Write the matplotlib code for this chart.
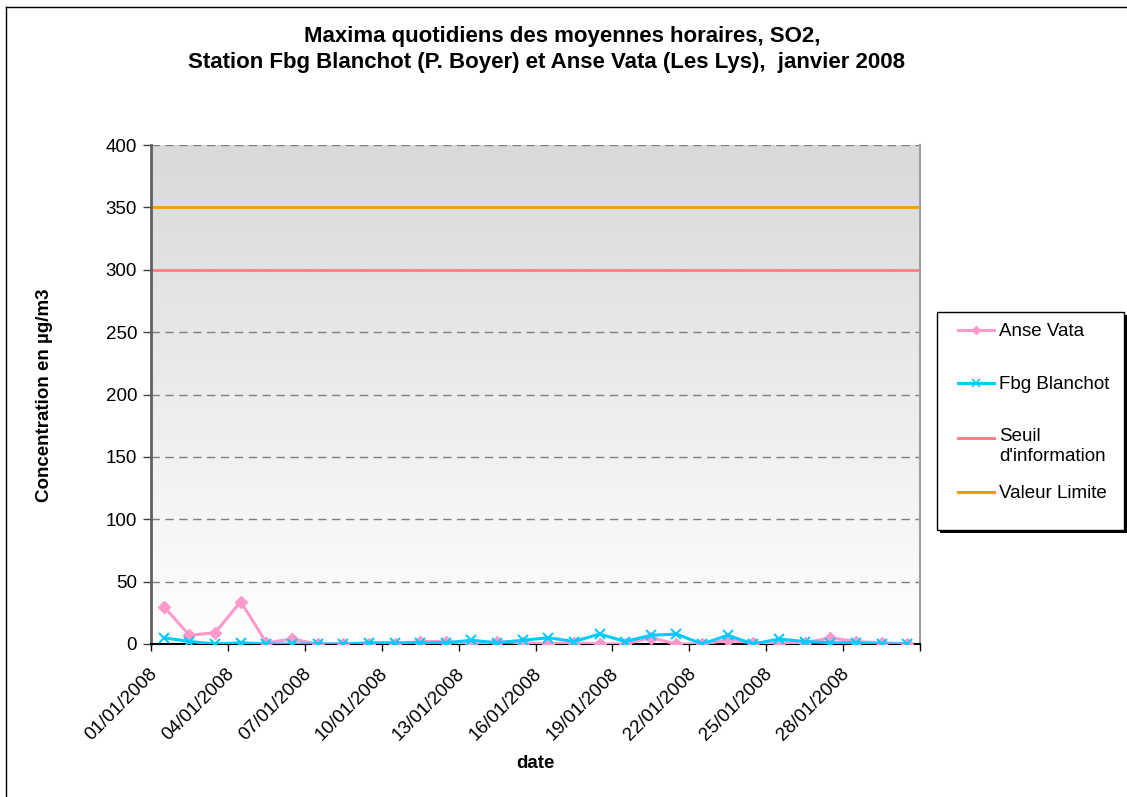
import matplotlib
matplotlib.use("Agg")
import matplotlib.pyplot as plt
import numpy as np
from matplotlib.colors import LinearSegmentedColormap
from matplotlib.lines import Line2D
from matplotlib.patches import Rectangle
from matplotlib.transforms import ScaledTranslation

plt.rcParams['font.family'] = ['Liberation Sans', 'DejaVu Sans']

dates = [f"{d:02d}/01/2008" for d in range(1, 31)]
anse_vata = [30, 7, 9, 34, 1, 4, 0, 0, 0, 0, 2, 2, 0, 2, 1,
             0, 1, 0, 0, 5, 0, 0, 3, 1, 1, 1, 5, 2, 1, 0]
fbg_blanchot = [5, 2, 0, 1, 0, 0, 0, 0, 1, 1, 1, 1, 3, 1, 3,
                5, 2, 8, 2, 7, 8, 0, 7, 0, 4, 2, 1, 1, 0, 0]
seuil_information = 300
valeur_limite = 350
y_ticks = [0, 50, 100, 150, 200, 250, 300, 350, 400]
series_names = ["Anse Vata", "Fbg Blanchot", "Seuil\nd'information", "Valeur Limite"]

PINK, BLUE, SEUIL_C, VL_C = '#FF99CC', '#00CCFF', '#FF8080', '#FF9900'
FS = 13.5

W, H = 1127, 797
fig = plt.figure(figsize=(W / 100, H / 100), dpi=100)


def fx(px):
    return px / W


def fy(py):
    return 1 - py / H


# chart border (clipped on right/bottom like the reference)
fig.add_artist(Line2D([fx(6), 1], [fy(7), fy(7)], color='black', lw=1))
fig.add_artist(Line2D([fx(6), fx(6)], [0, fy(7)], color='black', lw=1))

ax = fig.add_axes([fx(151), fy(644), (920 - 151) / W, (644 - 145) / H])
x = np.arange(len(dates))
ax.set_xlim(-0.5, len(dates) - 0.5)
ax.set_ylim(0, 400)

# gradient background
cmap = LinearSegmentedColormap.from_list('g', ['#FFFFFF', '#D9D9D9'])
grad = np.linspace(0, 1, 256).reshape(-1, 1)
ax.imshow(grad, extent=[-0.5, len(dates) - 0.5, 0, 400], origin='lower',
          aspect='auto', cmap=cmap, zorder=0)

for yv in y_ticks[1:]:
    ax.axhline(yv, color='#7F7F7F', lw=1, ls=(0, (6, 4)), zorder=1)

ax.axhline(seuil_information, color=SEUIL_C, lw=2, zorder=2)
ax.axhline(valeur_limite, color=VL_C, lw=2, zorder=2)

ax.plot(x, anse_vata, color=PINK, lw=2.2, marker='D', ms=6,
        mfc=PINK, mec=PINK, zorder=3)
ax.plot(x, fbg_blanchot, color=BLUE, lw=2.2, marker='x', ms=7,
        mew=1.5, zorder=4)

ax.set_yticks(y_ticks)
ax.set_yticklabels([str(v) for v in y_ticks], fontsize=FS)
ax.tick_params(axis='y', direction='out', length=6, width=1, color='#404040', pad=4)

major = np.arange(-0.5, len(dates), 3)
ax.set_xticks(major)
ax.set_xticklabels([''] * len(major))
ax.set_xticks(x[::3], minor=True)
ax.set_xticklabels([dates[i] for i in x[::3]], minor=True, fontsize=FS,
                   rotation=45, ha='right', va='top', rotation_mode='anchor')
ax.tick_params(axis='x', which='major', direction='out', length=5, width=1, color='black')
ax.tick_params(axis='x', which='minor', length=0, pad=15)
off = ScaledTranslation(-15 / 100, 0, fig.dpi_scale_trans)
for lab in ax.get_xticklabels(minor=True):
    lab.set_transform(lab.get_transform() + off)

ax.spines['left'].set_color('#606060')
ax.spines['left'].set_linewidth(2)
ax.spines['bottom'].set_color('black')
ax.spines['bottom'].set_linewidth(1.5)
ax.spines['right'].set_color('#A0A0A0')
ax.spines['right'].set_linewidth(1.5)
ax.spines['top'].set_visible(False)

fig.text(fx(562), fy(42), "Maxima quotidiens des moyennes horaires, SO2,",
         ha='center', va='baseline', fontsize=16, fontweight='bold')
fig.text(fx(546), fy(68),
         "Station Fbg Blanchot (P. Boyer) et Anse Vata (Les Lys),  janvier 2008",
         ha='center', va='baseline', fontsize=16, fontweight='bold')

fig.text(fx(45), fy(395), "Concentration en µg/m3", rotation=90,
         ha='center', va='center', fontsize=FS, fontweight='bold')
fig.text(fx(535), fy(763), "date", ha='center', va='center',
         fontsize=FS, fontweight='bold')

# legend (manual, to mimic Excel layout)
fig.add_artist(Rectangle((fx(940), fy(533)), fx(1127) - fx(940), fy(315) - fy(533),
                         transform=fig.transFigure, facecolor='black', edgecolor='none',
                         zorder=5))
fig.add_artist(Rectangle((fx(937), fy(530)), fx(1124) - fx(937), fy(312) - fy(530),
                         transform=fig.transFigure, facecolor='white', edgecolor='black',
                         lw=1, zorder=6))
leg_y = [330, 383, 438, 492]
leg_colors = [PINK, BLUE, SEUIL_C, VL_C]
leg_markers = [dict(marker='D', ms=4, mfc=PINK, mec=PINK),
               dict(marker='x', ms=6, mew=1.2, mec=BLUE),
               None, None]
for ly, name, col, mk in zip(leg_y, series_names, leg_colors, leg_markers):
    fig.add_artist(Line2D([fx(958), fx(994)], [fy(ly), fy(ly)], lw=2.2,
                          color=col, zorder=7))
    if mk is not None:
        fig.add_artist(Line2D([fx(976)], [fy(ly)], lw=0, zorder=8, **mk))
    if '\n' in name:
        fig.text(fx(999), fy(ly - 10), name, ha='left', va='top',
                 fontsize=FS, zorder=8, linespacing=1.2)
    else:
        fig.text(fx(999), fy(ly), name, ha='left', va='center_baseline',
                 fontsize=FS, zorder=8)

fig.savefig("out.png", dpi=100, facecolor='white')
